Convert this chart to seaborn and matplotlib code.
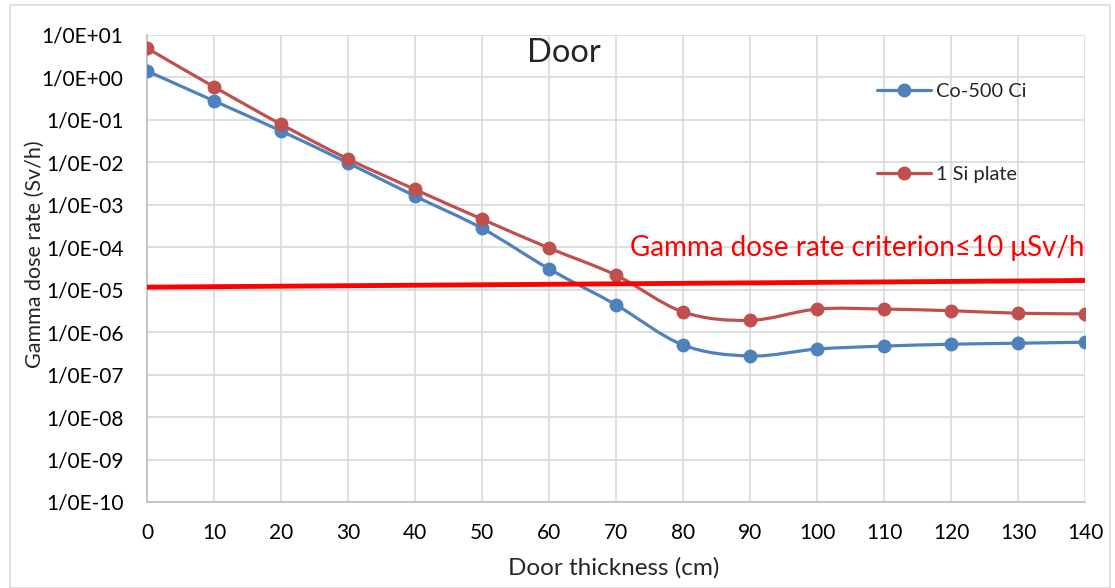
import numpy as np
import pandas as pd
import matplotlib
matplotlib.use("Agg")
import matplotlib.pyplot as plt
import seaborn as sns
from matplotlib.path import Path
from matplotlib.patches import PathPatch, Rectangle
from matplotlib.lines import Line2D
from matplotlib.ticker import FixedLocator, FixedFormatter, NullLocator

# ---- data ----
thickness = [0, 10, 20, 30, 40, 50, 60, 70, 80, 90, 100, 110, 120, 130, 140]
co500 = [1.42, 0.28, 0.055, 0.0097, 0.0016, 2.8e-4, 3.1e-5, 4.4e-6, 5.0e-7, 2.75e-7,
         4.0e-7, 4.7e-7, 5.2e-7, 5.5e-7, 5.8e-7]
si_plate = [4.9, 0.6, 0.079, 0.012, 0.0023, 4.6e-4, 9.6e-5, 2.2e-5, 3.0e-6, 1.9e-6,
            3.5e-6, 3.5e-6, 3.2e-6, 2.8e-6, 2.7e-6]
series_names = ["Co-500 Ci", "1 Si plate"]
criterion_x = [0, 140]
criterion_y = [1.15e-5, 1.65e-5]
ytick_vals = [1e1, 1e0, 1e-1, 1e-2, 1e-3, 1e-4, 1e-5, 1e-6, 1e-7, 1e-8, 1e-9, 1e-10]
ytick_labels = ["1/0E+01", "1/0E+00", "1/0E-01", "1/0E-02", "1/0E-03", "1/0E-04",
                "1/0E-05", "1/0E-06", "1/0E-07", "1/0E-08", "1/0E-09", "1/0E-10"]
xticks = list(range(0, 141, 10))

colors = {"Co-500 Ci": "#4f81bd", "1 Si plate": "#c0504d"}

sns.set_theme(style="white")
plt.rcParams['font.family'] = ['Lato', 'DejaVu Sans']

df = pd.DataFrame({
    "x": thickness * 2,
    "y": co500 + si_plate,
    "series": [series_names[0]] * len(thickness) + [series_names[1]] * len(thickness),
})

fig = plt.figure(figsize=(11.15, 5.88), dpi=100)
ax = fig.add_axes([147 / 1115, 1 - 502 / 588, (1085 - 147) / 1115, (502 - 35) / 588])

ax.set_yscale("log")
ax.set_xlim(0, 140)
ax.set_ylim(1e-10, 1e1)

# smooth curves (Catmull-Rom style, as Excel smoothed lines) in axes coordinates
def smooth_path(xs, ys):
    px = np.array(xs, float) / 140.0
    py = (np.log10(np.array(ys, float)) + 10) / 11.0
    pts = np.column_stack([px, py])
    verts = [pts[0]]
    codes = [Path.MOVETO]
    n = len(pts)
    for i in range(n - 1):
        p0 = pts[i - 1] if i > 0 else pts[i]
        p1 = pts[i]
        p2 = pts[i + 1]
        p3 = pts[i + 2] if i + 2 < n else pts[i + 1]
        c1 = p1 + (p2 - p0) / 6.0
        c2 = p2 - (p3 - p1) / 6.0
        verts += [c1, c2, p2]
        codes += [Path.CURVE4] * 3
    return Path(verts, codes)

for name, vals in zip(series_names, [co500, si_plate]):
    patch = PathPatch(smooth_path(thickness, vals), transform=ax.transAxes,
                      facecolor="none", edgecolor=colors[name], lw=2.3, zorder=3)
    ax.add_patch(patch)

sns.lineplot(data=df, x="x", y="y", hue="series", palette=colors, marker="o",
             markersize=10, markeredgewidth=0, linestyle="None", ax=ax,
             legend=False, zorder=4)

# criterion line
sns.lineplot(x=criterion_x, y=criterion_y, color="#ff0000", lw=3.5, ax=ax, zorder=5)

ax.yaxis.set_major_locator(FixedLocator(ytick_vals))
ax.yaxis.set_major_formatter(FixedFormatter(ytick_labels))
ax.yaxis.set_minor_locator(NullLocator())
ax.set_xticks(xticks)
ax.set_xticklabels([str(t) for t in xticks])

ax.grid(True, which="major", color="#d9d9d9", lw=1.2)
for s in ["top", "right"]:
    ax.spines[s].set_visible(False)
for s in ["left", "bottom"]:
    ax.spines[s].set_color("#bfbfbf")
    ax.spines[s].set_linewidth(1.2)
ax.tick_params(axis="both", length=0, labelsize=15, colors="black")
ax.tick_params(axis="x", pad=15)
ax.tick_params(axis="y", pad=17)

ax.set_xlabel("Door thickness (cm)", fontsize=17.5)
ax.set_ylabel("Gamma dose rate (Sv/h)", fontsize=15.5)
ax.xaxis.set_label_coords((614 - 147) / 938, (502 - 557) / 467)
ax.yaxis.set_label_coords((45 - 147) / 938, (502 - 254) / 467)

ax.text(0.4445, (502 - 62) / 467, "Door", transform=ax.transAxes, fontsize=23.5,
        ha="center", va="baseline")
ax.text(1.0, (502 - 256) / 467, "Gamma dose rate criterion\u226410 \u03bcSv/h",
        transform=ax.transAxes, fontsize=20, color="#ff0000", ha="right", va="baseline")

handles = [Line2D([0], [0], color=colors[n], lw=2.3, marker="o", markersize=10,
                  markeredgewidth=0) for n in series_names]
leg = fig.legend(handles, series_names, loc="upper left",
                 bbox_to_anchor=(859 / 1115, 1 - 65 / 588), frameon=False,
                 fontsize=14.4, labelspacing=3.3, handlelength=2.7, handletextpad=0.25)

fig.patches.append(Rectangle((10 / 1115, 0), 1100 / 1115, 1 - 5 / 588,
                             transform=fig.transFigure, fill=False,
                             edgecolor="#d9d9d9", lw=1.2))

fig.savefig("out.png", dpi=100)
